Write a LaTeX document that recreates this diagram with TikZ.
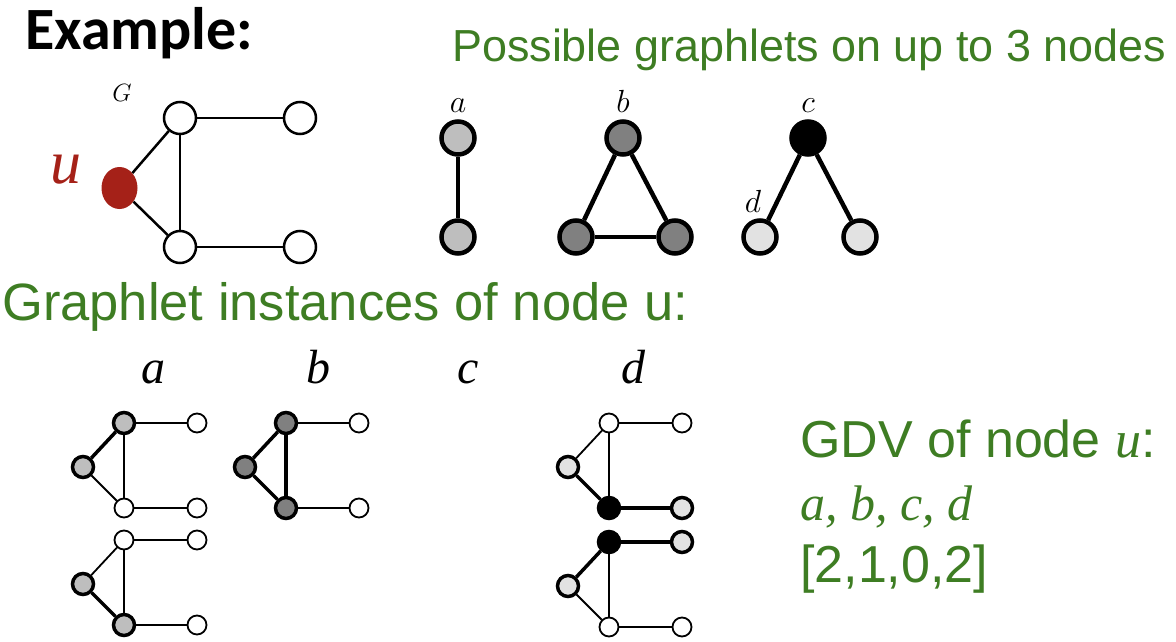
\RequirePackage{fix-cm}
\documentclass[tikz,border=0pt]{standalone}
\usepackage{fontspec}
\setmainfont{Liberation Sans}
\newfontfamily\calib{Carlito}
\newfontfamily\myserif{Liberation Serif}
\usetikzlibrary{shapes.geometric}
\definecolor{grn}{RGB}{62,125,35}
\definecolor{ured}{RGB}{165,33,24}
\definecolor{ga}{RGB}{190,190,190}
\definecolor{gb}{RGB}{128,128,128}
\definecolor{gd}{RGB}{226,226,226}
\tikzset{
  gnode/.style={circle,draw=black,line width=2.5pt,minimum size=32pt,inner sep=0pt,fill=white},
  gedge/.style={line width=2.5pt},
  tnode/.style={circle,draw=black,line width=4.5pt,minimum size=33pt,inner sep=0pt},
  tedge/.style={line width=4.5pt},
  sn/.style={circle,draw=black,line width=1.8pt,minimum size=19pt,inner sep=0pt,fill=white},
  hi/.style={line width=3.5pt,minimum size=21pt},
  se/.style={line width=1.8pt},
  te/.style={line width=3.5pt},
  sL/.style={},sTL/.style={},sTR/.style={},sBL/.style={},sBR/.style={},
  eLTL/.style={},eLBL/.style={},eTB/.style={},eTT/.style={},eBB/.style={},
  lbl/.style={inner sep=0pt,anchor=base},
}
\newcommand\smallG[2]{%
  \begin{scope}[shift={#2}]
    \node[sn,sL] (#1L) at (0,0) {};
    \node[sn,sTL] (#1TL) at (41,-44) {};
    \node[sn,sTR] (#1TR) at (114,-44) {};
    \node[sn,sBL] (#1BL) at (41,41) {};
    \node[sn,sBR] (#1BR) at (114,41) {};
    \draw[se,eLTL] (#1L) -- (#1TL);
    \draw[se,eLBL] (#1L) -- (#1BL);
    \draw[se,eTB] (#1TL) -- (#1BL);
    \draw[se,eTT] (#1TL) -- (#1TR);
    \draw[se,eBB] (#1BL) -- (#1BR);
  \end{scope}}
\begin{document}
\begin{tikzpicture}[x=1pt,y=-1pt]
\useasboundingbox (0,0) rectangle (1176,642);
% titles
\node[lbl,anchor=base west] (ex) at (25,50) {\calib\fontsize{60}{62}\selectfont\bfseries Example:};
\node[lbl,anchor=base west,text=grn] (poss) at (452,62) {\fontsize{44.9}{50}\selectfont Possible graphlets on up to 3 nodes};
\node[lbl,anchor=base west,text=grn] (inst) at (2,320) {\fontsize{52.5}{56}\selectfont Graphlet instances of node u:};
% graph G
\node[lbl] (Glab) at (122,101) {\fontsize{25}{27}\selectfont$G$};
\node[lbl,text=ured] (ulab) at (66,183) {\myserif\itshape\fontsize{62}{64}\selectfont u};
\node[gnode] (TL) at (180,118) {};
\node[gnode] (TR) at (300,118) {};
\node[gnode] (BL) at (180,247) {};
\node[gnode] (BR) at (300,247) {};
\node[ellipse,fill=ured,minimum width=36pt,minimum height=42pt,inner sep=0pt] (u) at (119.5,188) {};
\draw[gedge] (u) -- (TL);
\draw[gedge] (u) -- (BL);
\draw[gedge] (TL) -- (BL);
\draw[gedge] (TL) -- (TR);
\draw[gedge] (BL) -- (BR);
% graphlets
\node[lbl] (la) at (458,112) {\fontsize{32}{34}\selectfont$a$};
\node[tnode,fill=ga] (a1) at (458,138) {};
\node[tnode,fill=ga] (a2) at (458,237) {};
\draw[tedge] (a1) -- (a2);
\node[lbl] (lb) at (623,112) {\fontsize{32}{34}\selectfont$b$};
\node[tnode,fill=gb] (b1) at (623,138) {};
\node[tnode,fill=gb] (b2) at (576,237) {};
\node[tnode,fill=gb] (b3) at (675,237) {};
\draw[tedge] (b1) -- (b2);
\draw[tedge] (b1) -- (b3);
\draw[tedge] (b2) -- (b3);
\node[lbl] (lc) at (808,112) {\fontsize{32}{34}\selectfont$c$};
\node[lbl] (ld) at (753,212) {\fontsize{32}{34}\selectfont$d$};
\node[tnode,fill=black] (c1) at (808,138) {};
\node[tnode,fill=gd] (c2) at (760,237) {};
\node[tnode,fill=gd] (c3) at (860,237) {};
\draw[tedge] (c1) -- (c2);
\draw[tedge] (c1) -- (c3);
% instance labels
\node[lbl] (ia) at (153,383) {\myserif\itshape\fontsize{48}{50}\selectfont a};
\node[lbl] (ib) at (318,383) {\myserif\itshape\fontsize{48}{50}\selectfont b};
\node[lbl] (ic) at (468,383) {\myserif\itshape\fontsize{48}{50}\selectfont c};
\node[lbl] (id) at (633,383) {\myserif\itshape\fontsize{48}{50}\selectfont d};
% instances
\begin{scope}[sL/.style={hi,fill=ga},sTL/.style={hi,fill=ga},eLTL/.style={te}]
\smallG{ia1}{(83,467)}
\end{scope}
\begin{scope}[sL/.style={hi,fill=ga},sBL/.style={hi,fill=ga},eLBL/.style={te}]
\smallG{ia2}{(83,584)}
\end{scope}
\begin{scope}[sL/.style={hi,fill=gb},sTL/.style={hi,fill=gb},sBL/.style={hi,fill=gb},eLTL/.style={te},eLBL/.style={te},eTB/.style={te}]
\smallG{ib}{(245,467)}
\end{scope}
\begin{scope}[sL/.style={hi,fill=gd},sBL/.style={hi,fill=black},sBR/.style={hi,fill=gd},eLBL/.style={te},eBB/.style={te}]
\smallG{id1}{(568,467)}
\end{scope}
\begin{scope}[sL/.style={hi,fill=gd},sTL/.style={hi,fill=black},sTR/.style={hi,fill=gd},eLTL/.style={te},eTT/.style={te}]
\smallG{id2}{(568,586)}
\end{scope}
% GDV
\node[lbl,anchor=base west,text=grn] (gdv1) at (800,457) {\fontsize{52}{56}\selectfont GDV of node {\myserif\itshape u}:};
\node[lbl,anchor=base west,text=grn] (gdv2) at (800,520) {\myserif\itshape\fontsize{50}{56}\selectfont a, b, c, d};
\node[lbl,anchor=base west,text=grn] (gdv3) at (800,582) {\fontsize{52}{56}\selectfont [2,1,0,2]};
\end{tikzpicture}
\end{document}
